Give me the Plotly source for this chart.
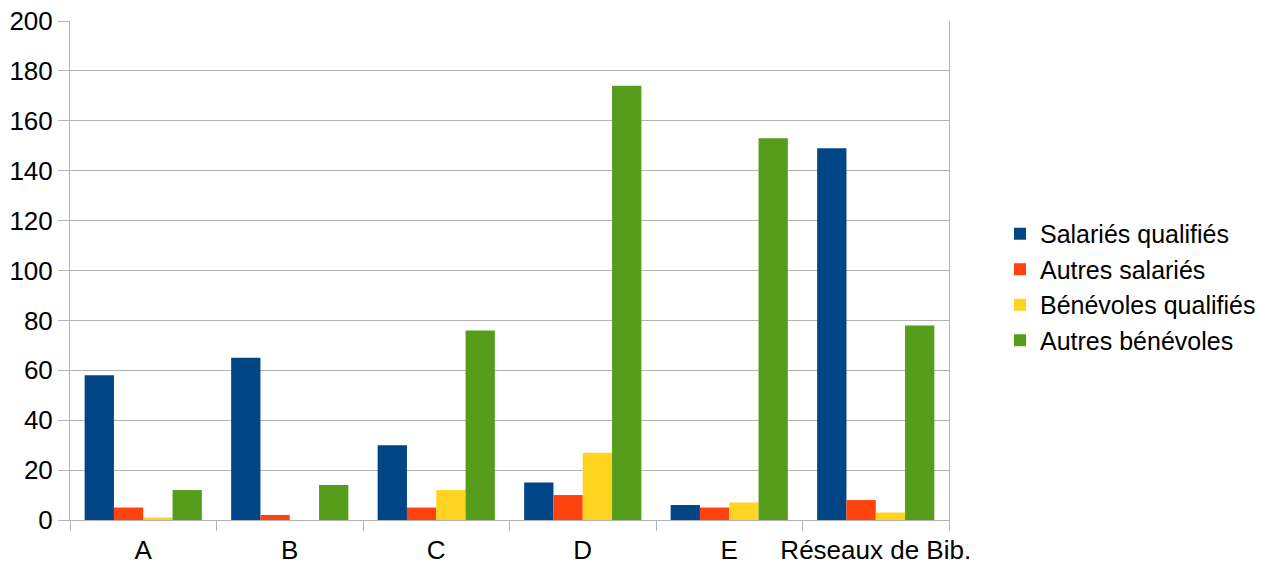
import plotly.graph_objects as go

categories = ["A", "B", "C", "D", "E", "Réseaux de Bib."]
salaries_qualifies = [58, 65, 30, 15, 6, 149]
autres_salaries = [5, 2, 5, 10, 5, 8]
benevoles_qualifies = [1, 0, 12, 27, 7, 3]
autres_benevoles = [12, 14, 76, 174, 153, 78]

series = [
    ("Salariés qualifiés", salaries_qualifies, "#004586"),
    ("Autres salariés", autres_salaries, "#ff420e"),
    ("Bénévoles qualifiés", benevoles_qualifies, "#ffd320"),
    ("Autres bénévoles", autres_benevoles, "#579d1c"),
]

fig = go.Figure()
for name, vals, color in series:
    fig.add_trace(go.Bar(name=name, x=categories, y=vals, marker_color=color,
                         marker_line_width=0))

grid = "#b3b3b3"
fig.update_layout(
    width=1290, height=556,
    margin=dict(l=62, r=349, t=13, b=44, autoexpand=False),
    barmode="group", bargap=0.2, bargroupgap=0,
    plot_bgcolor="white", paper_bgcolor="white",
    font=dict(family="Liberation Sans, Arial, sans-serif", size=26, color="black"),
    legend=dict(x=1.058, y=0.467, xanchor="left", yanchor="middle",
                font=dict(size=25), itemwidth=30, tracegroupgap=2),
    showlegend=True,
)
fig.update_yaxes(range=[0, 200], dtick=20, showgrid=True, gridcolor=grid, gridwidth=1,
                 showline=True, linecolor=grid, linewidth=1, mirror=True,
                 ticks="outside", ticklen=11, tickcolor=grid, zeroline=False,
                 automargin=False, ticklabeloverflow="allow")
fig.update_xaxes(showgrid=False, showline=True, linecolor=grid, linewidth=1,
                 ticks="outside", tickson="boundaries", ticklen=10, tickcolor=grid,
                 tickangle=0, automargin=False, ticklabelstandoff=7,
                 ticklabeloverflow="allow")

fig.write_html("out.html")
